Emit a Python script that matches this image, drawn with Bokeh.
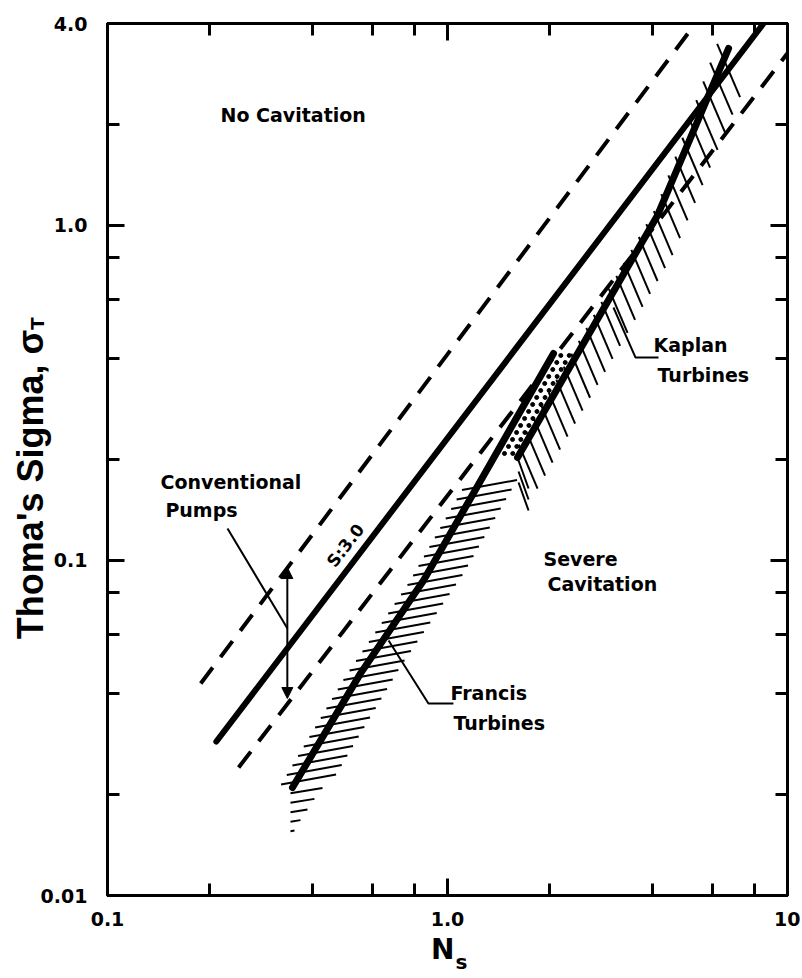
import numpy as np
from bokeh.plotting import figure
from bokeh.models import LogAxis, FixedTicker, Arrow, NormalHead, Range1d
from bokeh.core.properties import value
from bokeh.embed import file_html
from bokeh.resources import INLINE

# ---------------- data ----------------
x_major_ticks = [0.1, 1.0, 10.0]
x_minor_ticks = [0.2, 0.4, 0.6, 0.8, 2.0, 4.0, 6.0, 8.0]
x_tick_labels = {0.1: "0.1", 1.0: "1.0", 10.0: "10"}
y_major_ticks = [0.01, 0.1, 1.0, 4.0]
y_minor_ticks = [0.02, 0.04, 0.06, 0.08, 0.2, 0.4, 0.6, 0.8, 2.0]
y_tick_labels = {0.01: "0.01", 0.1: "0.1", 1.0: "1.0", 4.0: "4.0"}

# S = 3.0 line (solid) and the band edges of conventional pumps (dashed)
s3_ns = [0.209, 8.50]
s3_sigma = [0.0288, 4.0]
upper_ns = [0.188, 5.36]
upper_sigma = [0.0429, 4.0]
lower_ns = [0.243, 10.0]
lower_sigma = [0.0241, 3.26]

# turbine limit curves
francis_ns = [0.350, 0.555, 0.850, 1.338, 2.05]
francis_sigma = [0.0210, 0.0460, 0.0871, 0.1946, 0.4145]
kaplan_ns = [1.607, 4.146, 6.71]
kaplan_sigma = [0.2028, 1.07, 3.37]

# band arrow for conventional pumps
pump_arrow_ns = [0.338, 0.338]
pump_arrow_sigma = [0.0387, 0.0952]

# ---------------- figure ----------------
FONT = "DejaVu Sans"
TITLE_FONT = "Liberation Sans"
NBSP = "\u00a0"
W, H = 800, 978
ML, MR, MT, MB = 107, 13, 23, 83
p = figure(width=W, height=H, x_axis_type="log", y_axis_type="log",
           x_range=Range1d(0.1, 10.0), y_range=Range1d(0.01, 4.0),
           output_backend="svg", toolbar_location=None,
           min_border_left=ML, min_border_right=MR, min_border_top=MT, min_border_bottom=MB)
p.grid.visible = False
p.outline_line_color = "black"
p.outline_line_width = 3
p.background_fill_color = "white"
p.border_fill_color = "white"

FW = W - ML - MR
FH = H - MT - MB
SX = FW / 2.0                    # px per decade (x)
SY = FH / np.log10(4.0 / 0.01)   # px per decade (y)

x_axis = p.below[0]
y_axis = p.left[0]


def style_axis(ax, major, minor, labels, show_labels):
    ax.ticker = FixedTicker(ticks=major, minor_ticks=minor)
    ax.axis_line_width = 3
    ax.axis_line_color = "black"
    ax.major_tick_in = 17
    ax.major_tick_out = 0
    ax.minor_tick_in = 12
    ax.minor_tick_out = 0
    ax.major_tick_line_width = 3
    ax.minor_tick_line_width = 3
    ax.major_tick_line_color = "black"
    ax.minor_tick_line_color = "black"
    ax.major_label_text_font = FONT
    ax.major_label_text_font_style = "bold"
    if show_labels:
        ax.major_label_overrides = labels
        ax.major_label_text_font_size = "19px"
        ax.major_label_text_color = "black"
        ax.major_label_standoff = 20
    else:
        ax.major_label_overrides = {t: " " for t in major}
        ax.major_label_text_font_size = "6px"
        ax.major_label_text_color = None
        ax.major_label_standoff = 0


def text_axis(pos, text, size, standoff, orientation):
    """An axis with no line and no ticks, used only to place a title text outside the frame."""
    ax = LogAxis(ticker=FixedTicker(ticks=[pos], minor_ticks=[]))
    ax.axis_line_color = None
    ax.major_tick_line_color = None
    ax.minor_tick_line_color = None
    ax.major_tick_in = 0
    ax.major_tick_out = 0
    ax.minor_tick_in = 0
    ax.minor_tick_out = 0
    ax.major_label_overrides = {pos: text}
    ax.major_label_text_font = FONT
    ax.major_label_text_font_style = "bold"
    ax.major_label_text_font_size = size
    ax.major_label_text_color = "black"
    ax.major_label_standoff = standoff
    ax.major_label_orientation = orientation
    return ax


style_axis(x_axis, x_major_ticks, x_minor_ticks, x_tick_labels, True)
style_axis(y_axis, y_major_ticks, y_minor_ticks, y_tick_labels, True)
x_axis.major_label_standoff = 16

# x title: "N" with subscript "s"
x_axis.axis_label = "N" + NBSP
x_axis.axis_label_text_font = FONT
x_axis.axis_label_text_font_style = "bold"
x_axis.axis_label_text_font_size = "28px"
x_axis.axis_label_text_color = "black"
x_axis.axis_label_standoff = 4

top = LogAxis()
right = LogAxis()
style_axis(top, x_major_ticks, x_minor_ticks, {}, False)
style_axis(right, y_major_ticks, y_minor_ticks, {}, False)
p.add_layout(top, "above")
p.add_layout(right, "right")

p.add_layout(text_axis(1.099, "s", "20px", -19, "horizontal"), "below")

# y title: "Thoma's Sigma, σ" with subscript "T"
ya = text_axis(0.5305, "T", "18px", 0, np.pi / 2)
ya.axis_label = "Thoma's Sigma, σ" + NBSP * 5
ya.axis_label_text_font = TITLE_FONT
ya.axis_label_text_font_style = "bold"
ya.axis_label_text_font_size = "36px"
ya.axis_label_text_color = "black"
ya.axis_label_standoff = -37
p.add_layout(ya, "left")


def to_scr(ns, sig):
    return np.log10(np.asarray(ns, float)) * SX, np.log10(np.asarray(sig, float)) * SY


def to_data(X, Y):
    return 10 ** (np.asarray(X) / SX), 10 ** (np.asarray(Y) / SY)


# ---------------- hatching (derived from the curves) ----------------
hx, hy = [], []


def stroke(x0, y0, x1, y1):
    a, b = to_data([x0, x1], [y0, y1])
    hx.append([float(v) for v in a])
    hy.append([float(v) for v in b])


FX, FY = to_scr(francis_ns, francis_sigma)
_, ycut = to_scr(1.0, 0.175)
for y in np.arange(FY[0] + 6, ycut, 9.5):
    x = np.interp(y, FY, FX)
    stroke(x - 15, y - 3, x + 40, y + 7)
for k, L in enumerate([32, 24, 17, 10, 4], 1):
    y = FY[0] - 9.5 * (k - 0.4)
    x0 = FX[0] - 2
    stroke(x0, y, x0 + L, y + L * 0.16)

KX, KY = to_scr(kaplan_ns, kaplan_sigma)
ktop = KY[-1]
for x in np.arange(KX[0] + 4, KX[-1] - 2, 7.5):
    y = np.interp(x, KX, KY)
    ext = 6 + 10 * max(0.0, (y - (ktop - 150)) / 150)   # hatch reaches over the curve near the top
    stroke(x - ext * 0.45, y + ext, x + 16, y - 38)
for k in range(1, 4):
    ax_, ay_ = KX[0] + 1, KY[0] - 11 * k + 8
    stroke(ax_, ay_, ax_ + 10, ay_ - 28)

# stipple between the two turbine curves
dx_, dy_ = [], []
for y in np.arange(KY[0] + 4, FY[-1], 7.0):
    xf = np.interp(y, FY, FX)
    xk = np.interp(y, KY, KX)
    for f in (0.35, 0.7):
        a, b = to_data(xf + (xk - xf) * f, y)
        dx_.append(float(a))
        dy_.append(float(b))

p.multi_line(hx, hy, line_color="black", line_width=2)
p.scatter(dx_, dy_, size=4, color="black")

# ---------------- main lines ----------------
p.line(upper_ns, upper_sigma, line_color="black", line_width=4, line_dash="20 13")
p.line(lower_ns, lower_sigma, line_color="black", line_width=4, line_dash="20 13")
p.line(s3_ns, s3_sigma, line_color="black", line_width=6, line_cap="round")
p.line(francis_ns, francis_sigma, line_color="black", line_width=7, line_cap="round")
p.line(kaplan_ns, kaplan_sigma, line_color="black", line_width=7, line_cap="round")

# arrow across the pump band
p.add_layout(Arrow(x_start=pump_arrow_ns[0], y_start=pump_arrow_sigma[0],
                   x_end=pump_arrow_ns[1], y_end=pump_arrow_sigma[1],
                   start=NormalHead(size=11, fill_color="black", line_color="black", line_width=1),
                   end=NormalHead(size=11, fill_color="black", line_color="black", line_width=1),
                   line_width=2, line_color="black"))

# leader lines
p.line([0.2254, 0.3383], [0.1245, 0.0626], line_color="black", line_width=2)
p.line([4.174, 3.571, 3.077], [0.4032, 0.4032, 0.5684], line_color="black", line_width=2)
p.line([1.041, 0.879, 0.671], [0.0374, 0.0374, 0.0577], line_color="black", line_width=2)

# ---------------- annotation texts ----------------
txt_x = [0.215, 0.1432, 0.148, 1.916, 1.968, 4.035, 4.146, 1.02, 1.041]
txt_y = [2.13, 0.1708, 0.1409, 0.1013, 0.0853, 0.4378, 0.3563, 0.0403, 0.0328]
txt = ["No Cavitation", "Conventional", "Pumps", "Severe", "Cavitation",
       "Kaplan", "Turbines", "Francis", "Turbines"]
p.text(txt_x, txt_y, text=txt, text_font=value(FONT), text_font_style="bold",
       text_font_size="19px", text_align="left", text_baseline="middle", text_color="black")
p.text([0.501], [0.1108], text=["S:3.0"], angle=0.918, text_font=value(FONT),
       text_font_style="bold", text_font_size="17px", text_align="center",
       text_baseline="middle", text_color="black")

open("out.html", "w").write(file_html(p, INLINE))
